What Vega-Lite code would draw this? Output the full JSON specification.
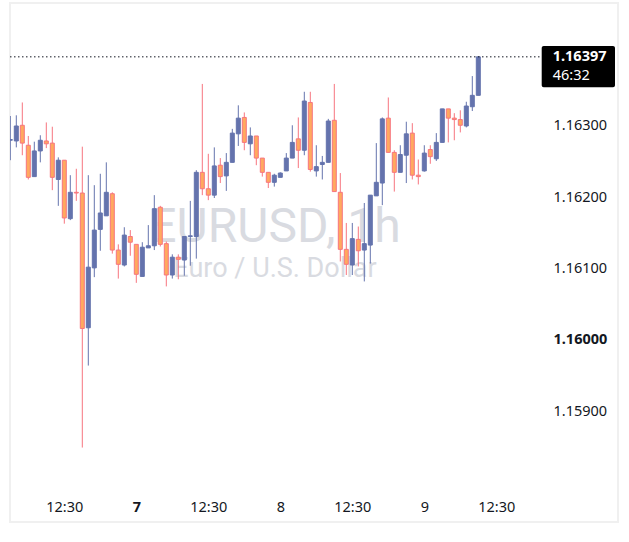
{
  "$schema": "https://vega.github.io/schema/vega-lite/v6.json",
  "width": 608,
  "height": 519,
  "autosize": "none",
  "padding": {"left": 10, "top": 3, "right": 11, "bottom": 20},
  "background": "#ffffff",
  "config": {
    "view": {"stroke": "#f0f0f0", "strokeWidth": 2},
    "axis": {"domain": false, "ticks": false, "tickSize": 0, "grid": false, "labelFont": "Noto Sans", "labelFontSize": 14.5, "labelColor": "#131722"}
  },
  "datasets": {
    "candles": [
      {"t": "2025-10-06T03:30:00", "o": 1.16280, "h": 1.16314, "l": 1.16252, "c": 1.16281},
      {"t": "2025-10-06T04:30:00", "o": 1.16279, "h": 1.16315, "l": 1.16270, "c": 1.16300},
      {"t": "2025-10-06T05:30:00", "o": 1.16301, "h": 1.16333, "l": 1.16259, "c": 1.16276},
      {"t": "2025-10-06T06:30:00", "o": 1.16273, "h": 1.16286, "l": 1.16225, "c": 1.16228},
      {"t": "2025-10-06T07:30:00", "o": 1.16229, "h": 1.16278, "l": 1.16229, "c": 1.16265},
      {"t": "2025-10-06T08:30:00", "o": 1.16265, "h": 1.16287, "l": 1.16249, "c": 1.16280},
      {"t": "2025-10-06T09:30:00", "o": 1.16279, "h": 1.16305, "l": 1.16269, "c": 1.16275},
      {"t": "2025-10-06T10:30:00", "o": 1.16276, "h": 1.16299, "l": 1.16210, "c": 1.16228},
      {"t": "2025-10-06T11:30:00", "o": 1.16225, "h": 1.16256, "l": 1.16188, "c": 1.16252},
      {"t": "2025-10-06T12:30:00", "o": 1.16252, "h": 1.16252, "l": 1.16163, "c": 1.16171},
      {"t": "2025-10-06T13:30:00", "o": 1.16170, "h": 1.16231, "l": 1.16168, "c": 1.16207},
      {"t": "2025-10-06T14:30:00", "o": 1.16207, "h": 1.16240, "l": 1.16195, "c": 1.16206},
      {"t": "2025-10-06T15:30:00", "o": 1.16206, "h": 1.16271, "l": 1.15849, "c": 1.16016},
      {"t": "2025-10-06T16:30:00", "o": 1.16017, "h": 1.16231, "l": 1.15964, "c": 1.16102},
      {"t": "2025-10-06T17:30:00", "o": 1.16101, "h": 1.16217, "l": 1.16088, "c": 1.16154},
      {"t": "2025-10-06T18:30:00", "o": 1.16155, "h": 1.16233, "l": 1.16125, "c": 1.16178},
      {"t": "2025-10-06T19:30:00", "o": 1.16174, "h": 1.16249, "l": 1.16174, "c": 1.16207},
      {"t": "2025-10-06T20:30:00", "o": 1.16205, "h": 1.16207, "l": 1.16121, "c": 1.16126},
      {"t": "2025-10-06T21:30:00", "o": 1.16126, "h": 1.16134, "l": 1.16086, "c": 1.16106},
      {"t": "2025-10-06T22:30:00", "o": 1.16105, "h": 1.16158, "l": 1.16103, "c": 1.16147},
      {"t": "2025-10-06T23:30:00", "o": 1.16145, "h": 1.16154, "l": 1.16118, "c": 1.16137},
      {"t": "2025-10-07T00:30:00", "o": 1.16134, "h": 1.16134, "l": 1.16080, "c": 1.16092},
      {"t": "2025-10-07T01:30:00", "o": 1.16089, "h": 1.16137, "l": 1.16089, "c": 1.16130},
      {"t": "2025-10-07T02:30:00", "o": 1.16129, "h": 1.16161, "l": 1.16129, "c": 1.16132},
      {"t": "2025-10-07T03:30:00", "o": 1.16132, "h": 1.16203, "l": 1.16126, "c": 1.16184},
      {"t": "2025-10-07T04:30:00", "o": 1.16186, "h": 1.16188, "l": 1.16131, "c": 1.16134},
      {"t": "2025-10-07T05:30:00", "o": 1.16135, "h": 1.16138, "l": 1.16075, "c": 1.16091},
      {"t": "2025-10-07T06:30:00", "o": 1.16091, "h": 1.16120, "l": 1.16086, "c": 1.16116},
      {"t": "2025-10-07T07:30:00", "o": 1.16116, "h": 1.16120, "l": 1.16085, "c": 1.16113},
      {"t": "2025-10-07T08:30:00", "o": 1.16112, "h": 1.16145, "l": 1.16090, "c": 1.16145},
      {"t": "2025-10-07T09:30:00", "o": 1.16145, "h": 1.16195, "l": 1.16104, "c": 1.16146},
      {"t": "2025-10-07T10:30:00", "o": 1.16145, "h": 1.16238, "l": 1.16114, "c": 1.16235},
      {"t": "2025-10-07T11:30:00", "o": 1.16235, "h": 1.16359, "l": 1.16203, "c": 1.16212},
      {"t": "2025-10-07T12:30:00", "o": 1.16212, "h": 1.16261, "l": 1.16196, "c": 1.16203},
      {"t": "2025-10-07T13:30:00", "o": 1.16203, "h": 1.16270, "l": 1.16199, "c": 1.16244},
      {"t": "2025-10-07T14:30:00", "o": 1.16245, "h": 1.16255, "l": 1.16220, "c": 1.16229},
      {"t": "2025-10-07T15:30:00", "o": 1.16230, "h": 1.16262, "l": 1.16209, "c": 1.16249},
      {"t": "2025-10-07T16:30:00", "o": 1.16249, "h": 1.16296, "l": 1.16249, "c": 1.16290},
      {"t": "2025-10-07T17:30:00", "o": 1.16289, "h": 1.16329, "l": 1.16272, "c": 1.16311},
      {"t": "2025-10-07T18:30:00", "o": 1.16312, "h": 1.16319, "l": 1.16266, "c": 1.16277},
      {"t": "2025-10-07T19:30:00", "o": 1.16275, "h": 1.16298, "l": 1.16259, "c": 1.16286},
      {"t": "2025-10-07T20:30:00", "o": 1.16286, "h": 1.16286, "l": 1.16245, "c": 1.16255},
      {"t": "2025-10-07T21:30:00", "o": 1.16255, "h": 1.16255, "l": 1.16229, "c": 1.16235},
      {"t": "2025-10-07T22:30:00", "o": 1.16235, "h": 1.16235, "l": 1.16213, "c": 1.16221},
      {"t": "2025-10-07T23:30:00", "o": 1.16221, "h": 1.16233, "l": 1.16215, "c": 1.16231},
      {"t": "2025-10-08T00:30:00", "o": 1.16228, "h": 1.16235, "l": 1.16228, "c": 1.16234},
      {"t": "2025-10-08T01:30:00", "o": 1.16237, "h": 1.16262, "l": 1.16237, "c": 1.16255},
      {"t": "2025-10-08T02:30:00", "o": 1.16255, "h": 1.16301, "l": 1.16255, "c": 1.16277},
      {"t": "2025-10-08T03:30:00", "o": 1.16282, "h": 1.16312, "l": 1.16241, "c": 1.16266},
      {"t": "2025-10-08T04:30:00", "o": 1.16266, "h": 1.16348, "l": 1.16259, "c": 1.16335},
      {"t": "2025-10-08T05:30:00", "o": 1.16333, "h": 1.16348, "l": 1.16236, "c": 1.16239},
      {"t": "2025-10-08T06:30:00", "o": 1.16237, "h": 1.16273, "l": 1.16229, "c": 1.16243},
      {"t": "2025-10-08T07:30:00", "o": 1.16246, "h": 1.16258, "l": 1.16225, "c": 1.16249},
      {"t": "2025-10-08T08:30:00", "o": 1.16249, "h": 1.16310, "l": 1.16249, "c": 1.16307},
      {"t": "2025-10-08T09:30:00", "o": 1.16308, "h": 1.16359, "l": 1.16208, "c": 1.16208},
      {"t": "2025-10-08T10:30:00", "o": 1.16207, "h": 1.16234, "l": 1.16110, "c": 1.16127},
      {"t": "2025-10-08T11:30:00", "o": 1.16127, "h": 1.16164, "l": 1.16091, "c": 1.16106},
      {"t": "2025-10-08T12:30:00", "o": 1.16105, "h": 1.16164, "l": 1.16091, "c": 1.16142},
      {"t": "2025-10-08T13:30:00", "o": 1.16141, "h": 1.16159, "l": 1.16103, "c": 1.16125},
      {"t": "2025-10-08T14:30:00", "o": 1.16126, "h": 1.16192, "l": 1.16082, "c": 1.16135},
      {"t": "2025-10-08T15:30:00", "o": 1.16133, "h": 1.16203, "l": 1.16107, "c": 1.16203},
      {"t": "2025-10-08T16:30:00", "o": 1.16202, "h": 1.16276, "l": 1.16202, "c": 1.16221},
      {"t": "2025-10-08T17:30:00", "o": 1.16220, "h": 1.16312, "l": 1.16189, "c": 1.16310},
      {"t": "2025-10-08T18:30:00", "o": 1.16311, "h": 1.16340, "l": 1.16263, "c": 1.16263},
      {"t": "2025-10-08T19:30:00", "o": 1.16263, "h": 1.16266, "l": 1.16208, "c": 1.16235},
      {"t": "2025-10-08T20:30:00", "o": 1.16235, "h": 1.16273, "l": 1.16235, "c": 1.16260},
      {"t": "2025-10-08T21:30:00", "o": 1.16259, "h": 1.16306, "l": 1.16220, "c": 1.16289},
      {"t": "2025-10-08T22:30:00", "o": 1.16290, "h": 1.16304, "l": 1.16225, "c": 1.16231},
      {"t": "2025-10-08T23:30:00", "o": 1.16231, "h": 1.16253, "l": 1.16218, "c": 1.16229},
      {"t": "2025-10-09T00:30:00", "o": 1.16237, "h": 1.16273, "l": 1.16236, "c": 1.16262},
      {"t": "2025-10-09T01:30:00", "o": 1.16267, "h": 1.16273, "l": 1.16247, "c": 1.16257},
      {"t": "2025-10-09T02:30:00", "o": 1.16254, "h": 1.16290, "l": 1.16251, "c": 1.16277},
      {"t": "2025-10-09T03:30:00", "o": 1.16277, "h": 1.16324, "l": 1.16277, "c": 1.16324},
      {"t": "2025-10-09T04:30:00", "o": 1.16324, "h": 1.16324, "l": 1.16277, "c": 1.16311},
      {"t": "2025-10-09T05:30:00", "o": 1.16311, "h": 1.16318, "l": 1.16280, "c": 1.16309},
      {"t": "2025-10-09T06:30:00", "o": 1.16309, "h": 1.16322, "l": 1.16291, "c": 1.16301},
      {"t": "2025-10-09T07:30:00", "o": 1.16300, "h": 1.16334, "l": 1.16298, "c": 1.16328},
      {"t": "2025-10-09T08:30:00", "o": 1.16327, "h": 1.16370, "l": 1.16321, "c": 1.16343},
      {"t": "2025-10-09T09:30:00", "o": 1.16343, "h": 1.16398, "l": 1.16343, "c": 1.16397}
    ],
    "watermark": [{"symbol": "EURUSD, 1h", "name": "Euro / U.S. Dollar"}],
    "last": [{"price": 1.16397, "timer": "46:32"}]
  },
  "layer": [
    {
      "data": {"name": "watermark"},
      "mark": {"type": "text", "font": "Roboto", "fontSize": 48, "color": "#d9dbe1", "align": "center", "baseline": "alphabetic"},
      "encoding": {
        "x": {"datum": {"year": 2025, "month": 10, "date": 7, "hours": 23, "minutes": 37}, "type": "temporal"},
        "y": {"datum": 1.161377, "type": "quantitative"},
        "text": {"field": "symbol"}
      }
    },
    {
      "data": {"name": "watermark"},
      "mark": {"type": "text", "font": "Roboto", "fontSize": 27, "color": "#d9dbe1", "align": "center", "baseline": "alphabetic"},
      "encoding": {
        "x": {"datum": {"year": 2025, "month": 10, "date": 7, "hours": 23, "minutes": 37}, "type": "temporal"},
        "y": {"datum": 1.160886, "type": "quantitative"},
        "text": {"field": "name"}
      }
    },
    {
      "data": {"name": "candles"},
      "mark": {"type": "rule", "strokeWidth": 1, "clip": true},
      "encoding": {
        "x": {
          "field": "t",
          "type": "temporal",
          "scale": {"domain": [{"year": 2025, "month": 10, "date": 6, "hours": 3, "minutes": 27}, {"year": 2025, "month": 10, "date": 10, "hours": 8, "minutes": 47}], "nice": false, "padding": 0},
          "axis": {
            "orient": "bottom",
            "offset": -32,
            "labelPadding": 10,
            "values": [
              {"year": 2025, "month": 10, "date": 6, "hours": 12, "minutes": 30},
              {"year": 2025, "month": 10, "date": 7, "hours": 0, "minutes": 30},
              {"year": 2025, "month": 10, "date": 7, "hours": 12, "minutes": 30},
              {"year": 2025, "month": 10, "date": 8, "hours": 0, "minutes": 30},
              {"year": 2025, "month": 10, "date": 8, "hours": 12, "minutes": 30},
              {"year": 2025, "month": 10, "date": 9, "hours": 0, "minutes": 30},
              {"year": 2025, "month": 10, "date": 9, "hours": 12, "minutes": 30}
            ],
            "labelExpr": "hours(datum.value) == 0 ? timeFormat(datum.value, '%-d') : timeFormat(datum.value, '%H:%M')",
            "labelFontWeight": {"condition": {"test": "hours(datum.value) == 0 && date(datum.value) == 7", "value": "bold"}, "value": "normal"},
            "title": null
          }
        },
        "y": {
          "field": "l",
          "type": "quantitative",
          "scale": {"domain": [1.157446, 1.164725], "zero": false, "nice": false, "padding": 0},
          "axis": {
            "orient": "right",
            "offset": -65,
            "labelPadding": 0,
            "labelAlign": "left",
            "values": [1.159, 1.16, 1.161, 1.162, 1.163],
            "format": ".5f",
            "labelFontWeight": {"condition": {"test": "abs(datum.value - 1.16) < 0.0000001", "value": "bold"}, "value": "normal"},
            "title": null
          }
        },
        "y2": {"field": "h"},
        "color": {"condition": {"test": "datum.c >= datum.o", "value": "#6473ad"}, "value": "#f7757f"}
      }
    },
    {
      "data": {"name": "candles"},
      "mark": {"type": "bar", "width": 4, "strokeWidth": 1, "clip": true},
      "encoding": {
        "x": {"field": "t", "type": "temporal"},
        "y": {"field": "o", "type": "quantitative"},
        "y2": {"field": "c"},
        "fill": {"condition": {"test": "datum.c >= datum.o", "value": "#6473ad"}, "value": "#ffa95f"},
        "stroke": {"condition": {"test": "datum.c >= datum.o", "value": "#6473ad"}, "value": "#f7757f"}
      }
    },
    {
      "data": {"name": "last"},
      "mark": {"type": "rule", "color": "#131722", "strokeWidth": 1, "strokeDash": [1.5, 2.5]},
      "encoding": {
        "x": {"datum": {"year": 2025, "month": 10, "date": 6, "hours": 3, "minutes": 27}, "type": "temporal"},
        "x2": {"datum": {"year": 2025, "month": 10, "date": 9, "hours": 20, "minutes": 4}},
        "y": {"field": "price", "type": "quantitative"}
      }
    },
    {
      "data": {"name": "last"},
      "mark": {"type": "rect", "color": "#000000", "cornerRadius": 2},
      "encoding": {
        "x": {"datum": {"year": 2025, "month": 10, "date": 9, "hours": 20, "minutes": 4}, "type": "temporal"},
        "x2": {"datum": {"year": 2025, "month": 10, "date": 10, "hours": 8, "minutes": 17}},
        "y": {"datum": 1.164122, "type": "quantitative"},
        "y2": {"datum": 1.163543}
      }
    },
    {
      "data": {"name": "last"},
      "mark": {"type": "text", "font": "Noto Sans", "fontSize": 14.5, "fontWeight": "bold", "color": "#ffffff", "align": "left", "baseline": "middle"},
      "encoding": {
        "x": {"datum": {"year": 2025, "month": 10, "date": 9, "hours": 21, "minutes": 54}, "type": "temporal"},
        "y": {"field": "price", "type": "quantitative"},
        "text": {"field": "price", "format": ".5f"}
      }
    },
    {
      "data": {"name": "last"},
      "mark": {"type": "text", "font": "Noto Sans", "fontSize": 14.5, "color": "#ffffff", "align": "left", "baseline": "middle", "dy": 19},
      "encoding": {
        "x": {"datum": {"year": 2025, "month": 10, "date": 9, "hours": 21, "minutes": 54}, "type": "temporal"},
        "y": {"field": "price", "type": "quantitative"},
        "text": {"field": "timer"}
      }
    }
  ]
}
